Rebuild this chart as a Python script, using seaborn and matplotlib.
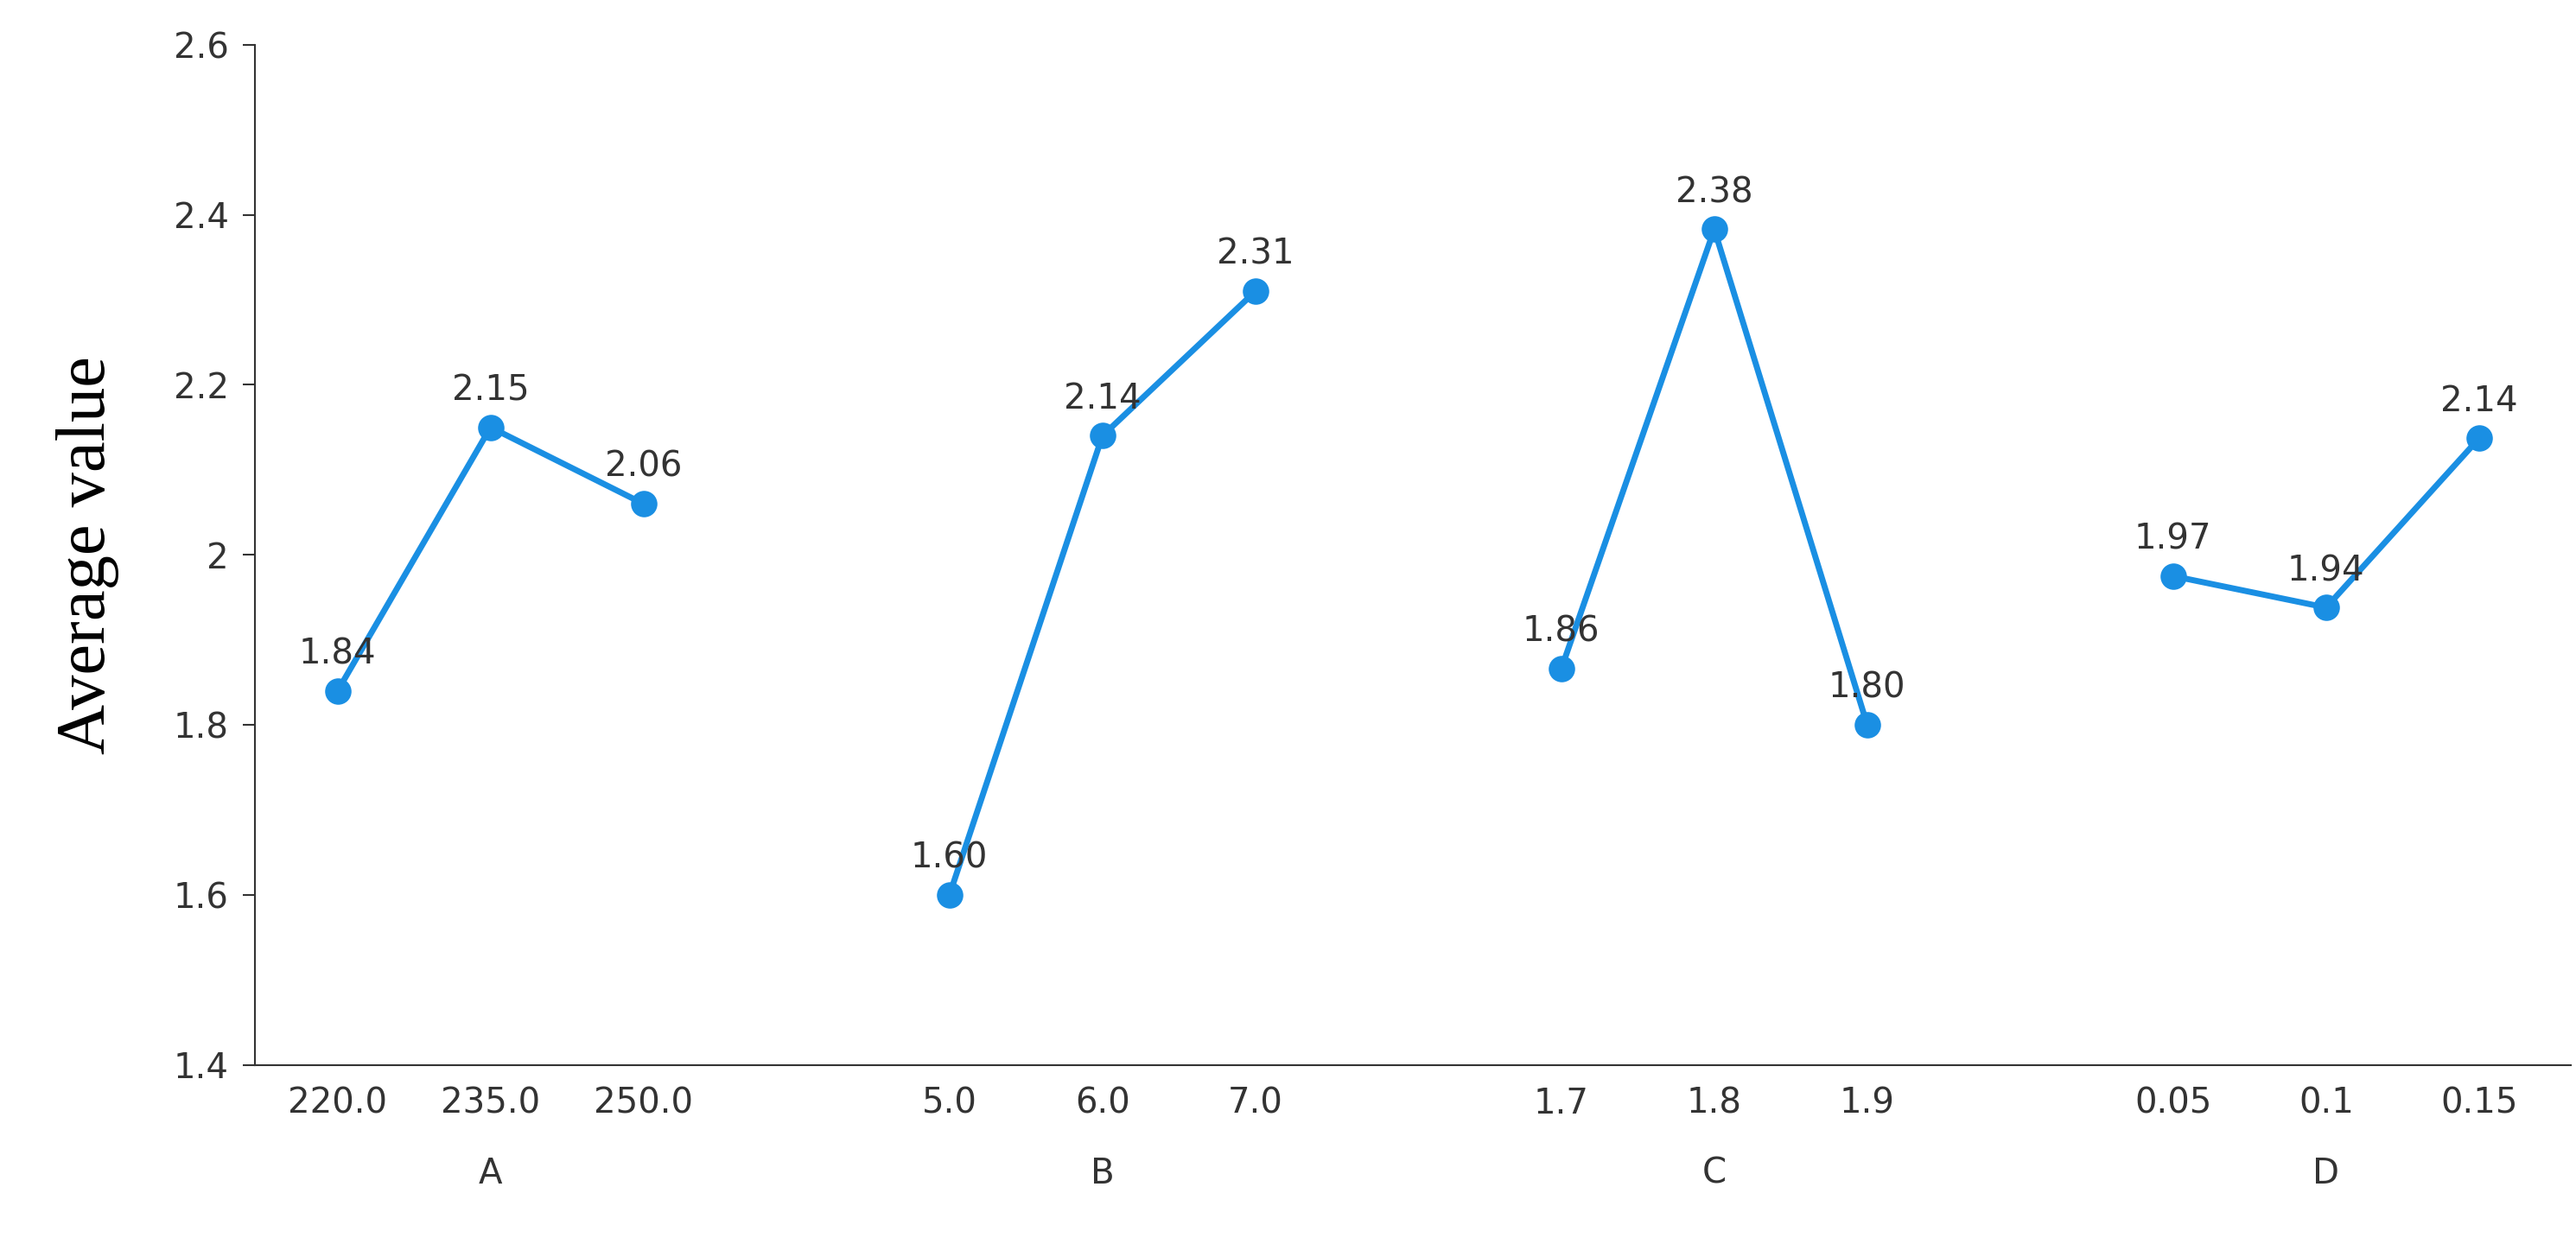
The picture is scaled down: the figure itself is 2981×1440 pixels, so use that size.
import matplotlib
matplotlib.use("Agg")
import matplotlib.pyplot as plt
import seaborn as sns
import pandas as pd

groups = ["A", "B", "C", "D"]
levels = [["220.0", "235.0", "250.0"], ["5.0", "6.0", "7.0"], ["1.7", "1.8", "1.9"], ["0.05", "0.1", "0.15"]]
values = [[1.84, 2.15, 2.06], [1.60, 2.14, 2.31], [1.866, 2.383, 1.80], [1.975, 1.938, 2.137]]
labels = [["1.84", "2.15", "2.06"], ["1.60", "2.14", "2.31"], ["1.86", "2.38", "1.80"], ["1.97", "1.94", "2.14"]]

sns.set_theme(style="white")
plt.rcParams['font.family'] = ['DejaVu Sans']
fig = plt.figure(figsize=(29.81, 14.4), dpi=100)
ax = fig.add_axes([0.099, 0.144, 0.899, 0.82])
color = "#1a8fe3"
ticks, ticklabels = [], []
for gi, g in enumerate(groups):
    pos = [gi * 4 + i for i in range(3)]
    df = pd.DataFrame({"x": pos, "y": values[gi]})
    sns.lineplot(data=df, x="x", y="y", ax=ax, color=color, lw=5, marker="o",
                 markersize=22, markeredgewidth=0)
    for p, v, t in zip(pos, values[gi], labels[gi]):
        ax.annotate(t, (p, v), xytext=(0, 16), textcoords="offset points",
                    ha="center", va="bottom", fontsize=29, color="#333333")
    ticks += pos
    ticklabels += levels[gi]
    ax.text(gi * 4 + 1, -0.09, g, transform=ax.get_xaxis_transform(),
            ha="center", va="top", fontsize=29, color="#333333")
ax.set_xticks(ticks)
ax.set_xticklabels(ticklabels, fontsize=29, color="#333333")
ax.set_xlim(-0.54, 14.6)
ax.set_ylim(1.4, 2.6)
ax.set_yticks([1.4, 1.6, 1.8, 2.0, 2.2, 2.4, 2.6])
ax.set_yticklabels(["1.4", "1.6", "1.8", "2", "2.2", "2.4", "2.6"], fontsize=29, color="#333333")
ax.tick_params(axis="y", length=10, width=1.5, color="#333333", left=True, pad=12)
ax.tick_params(axis="x", length=0, pad=18)
ax.set_xlabel("")
ax.set_ylabel("Average value", family="Liberation Serif", fontsize=58, labelpad=45, color="black")
for s in ["top", "right"]:
    ax.spines[s].set_visible(False)
for s in ["left", "bottom"]:
    ax.spines[s].set_color("#333333")
    ax.spines[s].set_linewidth(1.5)
fig.savefig("out.png", dpi=100)
